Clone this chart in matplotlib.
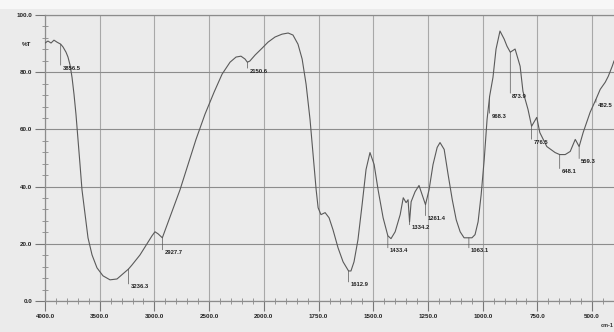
import numpy as np
import matplotlib
matplotlib.use("Agg")
import matplotlib.pyplot as plt
from matplotlib.ticker import FixedLocator, FormatStrFormatter
from matplotlib.patches import Rectangle

plt.rcParams["font.family"] = ["Liberation Sans", "DejaVu Sans"]

# IR 光谱（波数 cm-1, 透过率 %T）
wavenumber = [4000, 3973, 3945, 3918, 3890, 3856.5, 3835, 3808, 3790, 3771, 3753, 3735, 3717, 3698,
              3680, 3662, 3634, 3607, 3570, 3525, 3470, 3406, 3342, 3278, 3236.3, 3205, 3132, 3068,
              3022, 2995, 2967, 2927.7, 2894, 2839, 2766, 2693, 2620, 2538, 2455, 2382, 2309, 2254,
              2209, 2172, 2150.6, 2128, 2080, 2016,
              1981, 1949, 1917, 1889, 1867, 1844, 1825, 1807, 1789, 1775, 1761, 1752, 1739, 1720,
              1702, 1684, 1661, 1638, 1612.9, 1602, 1588, 1570, 1551, 1533, 1515, 1496, 1478, 1455,
              1433.4, 1419, 1400, 1377, 1363, 1350, 1341, 1334.2, 1327, 1309, 1291, 1277, 1261.4,
              1245, 1227, 1208, 1195, 1176, 1158, 1139, 1121, 1103, 1085, 1063.1, 1049, 1035, 1021,
              1007, 993, 980, 968.3, 953, 939, 921, 902, 889, 873.9, 852, 829, 816, 793, 776.5, 753,
              739, 707, 669, 648.1, 623, 600, 577, 559.3, 541, 509, 482.5, 463, 440, 426, 408, 400]
transmittance = [90.2, 90.9, 90.2, 91.2, 90.5, 89.8, 88.8, 87.0, 85.3, 82.5, 78.2, 72.3, 65.3, 56.5,
                 47.7, 38.9, 30.2, 22.1, 16.1, 11.6, 8.8, 7.4, 7.7, 9.8, 11.2, 12.6, 16.1, 20.0,
                 22.8, 24.2, 23.5, 22.1, 25.6, 31.2, 38.9, 47.7, 56.5, 65.3, 73.0, 79.3, 83.5, 85.3,
                 85.6, 84.6, 83.5, 83.9, 86.0, 88.4,
                 90.5, 92.3, 93.3, 93.7, 93.0, 89.8, 84.6, 75.8, 63.5, 51.2, 38.9, 32.6, 30.2, 30.9,
                 29.1, 24.9, 18.6, 13.7, 10.5, 10.5, 13.7, 21.4, 33.7, 46.0, 51.9, 47.7, 38.9, 29.1,
                 22.8, 21.8, 24.2, 30.2, 36.1, 34.4, 35.4, 27.7, 34.7, 38.2, 40.4, 37.2, 33.7,
                 38.9, 47.7, 53.7, 55.4, 53.0, 44.2, 35.4, 28.4, 24.2, 22.1, 22.1, 22.1, 23.2, 27.7,
                 37.2, 49.5, 63.5, 71.6, 78.2, 88.1, 94.4, 91.6, 89.1, 87.0, 88.1, 82.1, 73.3, 67.0, 61.1, 64.2,
                 58.9, 54.0, 51.9, 51.2, 51.2, 52.3, 56.5, 54.0, 58.9, 66.0, 70.5, 74.0, 76.5, 78.6, 82.1, 83.9]

# 标注的峰位
peaks = [3856.5, 3236.3, 2927.7, 2150.6, 1612.9, 1433.4, 1334.2, 1261.4, 1063.1,
         968.3, 873.9, 776.5, 648.1, 559.3, 482.5]
# 标签相对峰点下移的像素
label_drop = [24, 18, 15, 9, 14, 15, 6, 14, 13, 20, 44, 16, 17, 15, 6]

x_major = [4000, 3500, 3000, 2500, 2000, 1750, 1500, 1250, 1000, 750, 500]
y_major = [0, 20, 40, 60, 80, 100]


# 2000 cm-1 以下横向放大一倍
def fwd(w):
    w = np.asarray(w, dtype=float)
    return np.where(w >= 2000, 3200 + (w - 2000), 2 * (w - 400))


def inv(p):
    p = np.asarray(p, dtype=float)
    return np.where(p >= 3200, p - 1200, p / 2 + 400)


BG = "#ebebeb"
fig = plt.figure(figsize=(6.14, 3.32), dpi=100, facecolor=BG)
fig.patches.append(Rectangle((0, 1 - 9 / 332), 1, 9 / 332, transform=fig.transFigure,
                             facecolor="#f7f7f7", edgecolor="none", zorder=0))
ax = fig.add_axes([45 / 614, 1 - 301 / 332, 1 - 45 / 614, (301 - 15) / 332])
ax.set_facecolor(BG)

ax.set_xscale("function", functions=(fwd, inv))
ax.set_xlim(4000, 400)
ax.set_ylim(0, 100)

ax.plot(wavenumber, transmittance, color="#5a5a5a", lw=0.8, zorder=3)

ax.xaxis.set_major_locator(FixedLocator(x_major))
ax.xaxis.set_major_formatter(FormatStrFormatter("%.1f"))
ax.xaxis.set_minor_locator(FixedLocator(list(np.arange(4000, 2000, -100)) + list(np.arange(2000, 400, -50))))
ax.yaxis.set_major_locator(FixedLocator(y_major))
ax.yaxis.set_major_formatter(FormatStrFormatter("%.1f"))
ax.yaxis.set_minor_locator(FixedLocator(np.arange(0, 100, 4)))

ax.tick_params(axis="both", which="major", length=7, width=0.8, color="#777777",
               labelsize=4.5, labelcolor="#222222", pad=2)
ax.tick_params(axis="both", which="minor", direction="inout", length=4, width=0.6, color="#888888")
for lab in ax.get_xticklabels() + ax.get_yticklabels():
    lab.set_fontweight("bold")

ax.grid(True, axis="y", which="major", color="#8c8c8c", lw=0.8)
ax.grid(True, axis="x", which="major", color="#a8a8a8", lw=0.8)
for s in ["left", "bottom", "top"]:
    ax.spines[s].set_color("#8c8c8c")
    ax.spines[s].set_linewidth(0.9)
ax.spines["right"].set_visible(False)

ax.text(-0.025, 0.898, "%T", transform=ax.transAxes, ha="right", va="center",
        fontsize=4.5, fontweight="bold", color="#222222")
ax.text(1.0, -0.085, "cm-1", transform=ax.transAxes, ha="right", va="center",
        fontsize=4, fontweight="bold", color="#333333", clip_on=False)

# 峰位标注：竖直引线 + 数值
for w, d in zip(peaks, label_drop):
    t = transmittance[wavenumber.index(w)]
    ax.annotate("", xy=(w, t), xytext=(0, -(d - 3) * 0.72), textcoords="offset points",
                arrowprops=dict(arrowstyle="-", lw=0.5, color="#555555", shrinkA=0, shrinkB=0))
    ax.annotate(f"{w:.1f}", xy=(w, t), xytext=(1.5, -d * 0.72), textcoords="offset points",
                ha="left", va="center", fontsize=4.2, fontweight="bold", color="#222222",
                annotation_clip=False, zorder=4)

fig.savefig("out.png", dpi=100, facecolor=BG)
